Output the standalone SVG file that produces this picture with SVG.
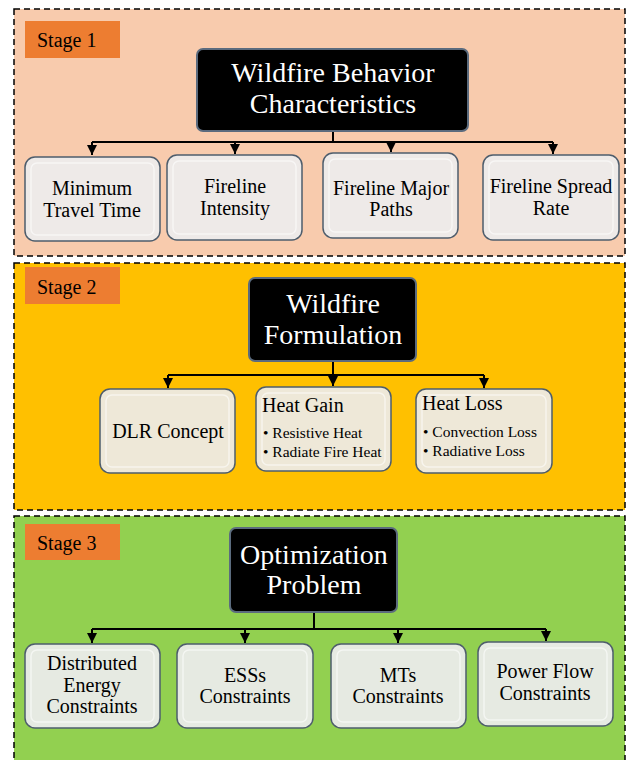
<svg xmlns="http://www.w3.org/2000/svg" width="628" height="760" viewBox="0 0 628 760" font-family="'Liberation Serif', 'Times New Roman', 'DejaVu Serif', serif">
<defs>
<style>
text{font-family:'Liberation Serif','Times New Roman','DejaVu Serif',serif}
.panel{stroke:#000;stroke-width:1.5;stroke-dasharray:6,4}
.tag{fill:#ED7D31}
.tagt{font-size:20px;fill:#000}
.head{fill:#000;stroke:#5B6B7E;stroke-width:2}
.headt{font-size:28px;fill:#fff;text-anchor:middle}
.box{stroke:#4E5D6C;stroke-width:1.5}
.bev{fill:none;stroke:#fff;stroke-opacity:0.55;stroke-width:1.5}
.bt{font-size:20px;fill:#000;text-anchor:middle}
.bl{font-size:20px;fill:#000}
.sm{font-size:15.5px;fill:#000}
.c{fill:none;stroke:#000;stroke-width:2}
</style>
<marker id="ah" viewBox="0 0 10 10" refX="10" refY="5" markerWidth="5" markerHeight="5" markerUnits="strokeWidth" orient="auto">
<path d="M0,0 L10,5 L0,10 z" fill="#000"/>
</marker>
</defs>

<g id="stage1">
<rect class="panel" x="14" y="9" width="611" height="247" fill="#F8CBAD"/>
<rect class="tag" x="25" y="21" width="95" height="37"/>
<text class="tagt" x="37" y="47">Stage 1</text>
</g>
<g id="stage2">
<rect class="panel" x="14" y="263" width="611" height="247" fill="#FFC000"/>
<rect class="tag" x="25" y="267" width="95" height="37"/>
<text class="tagt" x="37" y="294">Stage 2</text>
</g>
<g id="stage3">
<rect class="panel" x="14" y="516" width="611" height="260" fill="#92D050"/>
<rect class="tag" x="25" y="524" width="95" height="36"/>
<text class="tagt" x="37" y="550">Stage 3</text>
</g>

<g id="connectors">
<path class="c" d="M333,131 V142 M92,142 H553"/>
<path class="c" d="M92,142 V155" marker-end="url(#ah)"/>
<path class="c" d="M235,142 V154" marker-end="url(#ah)"/>
<path class="c" d="M391,142 V152" marker-end="url(#ah)"/>
<path class="c" d="M553,142 V154" marker-end="url(#ah)"/>
<path class="c" d="M333,361 V375 M168,375 H484"/>
<path class="c" d="M168,375 V388" marker-end="url(#ah)"/>
<path class="c" d="M333,375 V386" marker-end="url(#ah)"/>
<path class="c" d="M484,375 V388" marker-end="url(#ah)"/>
<path class="c" d="M314,612 V629 M92,629 H546"/>
<path class="c" d="M92,629 V643" marker-end="url(#ah)"/>
<path class="c" d="M245,629 V643" marker-end="url(#ah)"/>
<path class="c" d="M398,629 V643" marker-end="url(#ah)"/>
<path class="c" d="M546,629 V641" marker-end="url(#ah)"/>
</g>

<g id="wildfire-behavior">
<rect class="head" x="197" y="49" width="271" height="82" rx="6"/>
<text class="headt" x="333" y="82">Wildfire Behavior</text>
<text class="headt" x="333" y="113">Characteristics</text>
</g>
<g id="min-travel">
<rect class="box" x="25" y="157" width="135" height="84" rx="10" fill="#EEEAE8"/>
<rect class="bev" x="31" y="163" width="123" height="72" rx="6"/>
<text class="bt" x="92" y="195">Minimum</text>
<text class="bt" x="92" y="217">Travel Time</text>
</g>
<g id="fireline-intensity">
<rect class="box" x="167" y="155" width="135" height="85" rx="10" fill="#EEEAE8"/>
<rect class="bev" x="173" y="161" width="123" height="73" rx="6"/>
<text class="bt" x="235" y="193">Fireline</text>
<text class="bt" x="235" y="215">Intensity</text>
</g>
<g id="fireline-paths">
<rect class="box" x="323" y="153" width="135" height="85" rx="10" fill="#EEEAE8"/>
<rect class="bev" x="329" y="159" width="123" height="73" rx="6"/>
<text class="bt" x="391" y="195">Fireline Major</text>
<text class="bt" x="391" y="216">Paths</text>
</g>
<g id="fireline-spread">
<rect class="box" x="483" y="155" width="136" height="85" rx="10" fill="#EEEAE8"/>
<rect class="bev" x="489" y="161" width="124" height="73" rx="6"/>
<text class="bt" x="551" y="193">Fireline Spread</text>
<text class="bt" x="551" y="215">Rate</text>
</g>

<g id="wildfire-formulation">
<rect class="head" x="249" y="278" width="167" height="83" rx="6"/>
<text class="headt" x="333" y="313">Wildfire</text>
<text class="headt" x="333" y="344">Formulation</text>
</g>
<g id="dlr">
<rect class="box" x="100" y="389" width="135" height="84" rx="10" fill="#EEE8D8"/>
<rect class="bev" x="106" y="395" width="123" height="72" rx="6"/>
<text class="bt" x="168" y="438">DLR Concept</text>
</g>
<g id="heat-gain">
<rect class="box" x="256" y="387" width="135" height="84" rx="10" fill="#EEE8D8"/>
<rect class="bev" x="262" y="393" width="123" height="72" rx="6"/>
<text class="bl" x="262" y="412">Heat Gain</text>
<text class="sm" x="263" y="438">• Resistive Heat</text>
<text class="sm" x="263" y="457">• Radiate Fire Heat</text>
</g>
<g id="heat-loss">
<rect class="box" x="416" y="389" width="136" height="84" rx="10" fill="#EEE8D8"/>
<rect class="bev" x="422" y="395" width="124" height="72" rx="6"/>
<text class="bl" x="422" y="410">Heat Loss</text>
<text class="sm" x="423" y="437">• Convection Loss</text>
<text class="sm" x="423" y="456">• Radiative Loss</text>
</g>

<g id="optimization">
<rect class="head" x="230" y="528" width="167" height="84" rx="6"/>
<text class="headt" x="314" y="564">Optimization</text>
<text class="headt" x="314" y="594">Problem</text>
</g>
<g id="distributed">
<rect class="box" x="25" y="644" width="135" height="84" rx="10" fill="#E6EAE2"/>
<rect class="bev" x="31" y="650" width="123" height="72" rx="6"/>
<text class="bt" x="92" y="670">Distributed</text>
<text class="bt" x="92" y="692">Energy</text>
<text class="bt" x="92" y="713">Constraints</text>
</g>
<g id="ess">
<rect class="box" x="177" y="644" width="136" height="84" rx="10" fill="#E6EAE2"/>
<rect class="bev" x="183" y="650" width="124" height="72" rx="6"/>
<text class="bt" x="245" y="682">ESSs</text>
<text class="bt" x="245" y="703">Constraints</text>
</g>
<g id="mts">
<rect class="box" x="331" y="644" width="135" height="84" rx="10" fill="#E6EAE2"/>
<rect class="bev" x="337" y="650" width="123" height="72" rx="6"/>
<text class="bt" x="398" y="682">MTs</text>
<text class="bt" x="398" y="703">Constraints</text>
</g>
<g id="power-flow">
<rect class="box" x="478" y="642" width="135" height="84" rx="10" fill="#E6EAE2"/>
<rect class="bev" x="484" y="648" width="123" height="72" rx="6"/>
<text class="bt" x="545" y="678">Power Flow</text>
<text class="bt" x="545" y="700">Constraints</text>
</g>
</svg>
